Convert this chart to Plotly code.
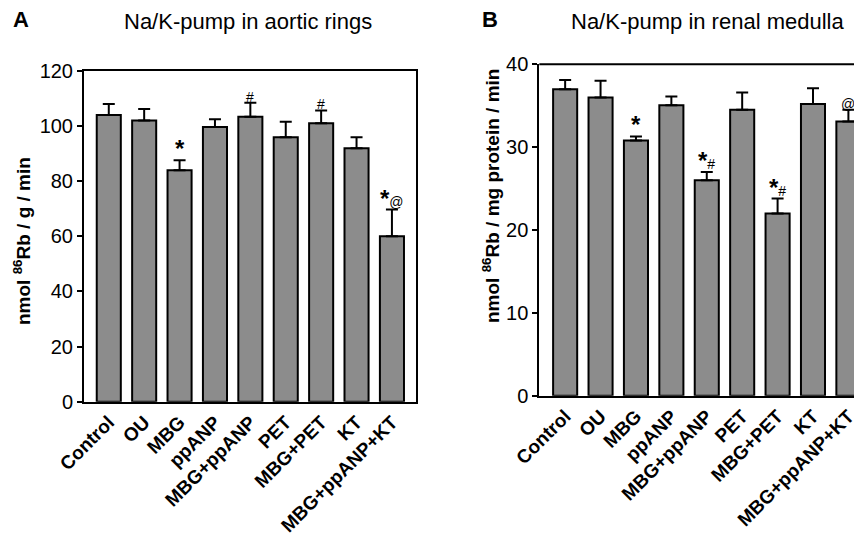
import plotly.graph_objects as go

categories = ["Control", "OU", "MBG", "ppANP", "MBG+ppANP", "PET", "MBG+PET", "KT", "MBG+ppANP+KT"]

aortic_mean = [104, 102, 84, 99.7, 103.4, 96, 101, 92, 60]
aortic_sem = [4.0, 4.2, 3.6, 2.8, 5.1, 5.6, 4.7, 4.0, 9.7]
aortic_sig = ["", "", "*", "", "#", "", "#", "", "*@"]

renal_mean = [37.0, 36.0, 30.8, 35.05, 26.0, 34.5, 22.0, 35.2, 33.1]
renal_sem = [1.1, 2.0, 0.5, 1.05, 1.0, 2.1, 1.8, 1.9, 1.4]
renal_sig = ["", "", "*", "", "*#", "", "*#", "", "@"]

W, H = 862, 543
OFF = 8  # page body margin compensation
FONT = "Liberation Sans, Arial, sans-serif"
BAR = "#8c8c8c"


def px(v):
    return (v - OFF) / W


def py(v):
    return 1 - (v - OFF) / H


fig = go.Figure()

for mean, sem, xa, ya in [(aortic_mean, aortic_sem, "x", "y"), (renal_mean, renal_sem, "x2", "y2")]:
    fig.add_trace(go.Bar(
        x=list(range(len(categories))), y=mean, xaxis=xa, yaxis=ya,
        width=0.68,
        marker=dict(color=BAR, line=dict(color="black", width=2)),
        error_y=dict(type="data", symmetric=False, array=sem, arrayminus=[0] * len(sem),
                     color="black", thickness=2, width=6),
        showlegend=False,
    ))


def sig_text(s):
    out = ""
    for ch in s:
        if ch == "*":
            out += "<span style='font-size:24px'><b>*</b></span>"
        else:
            out += "<span style='font-size:14px'>" + ch + "</span>"
    return out


annotations = []
for mean, sem, sig, xr, yr in [(aortic_mean, aortic_sem, aortic_sig, "x", "y"),
                               (renal_mean, renal_sem, renal_sig, "x2", "y2")]:
    for i, s in enumerate(sig):
        if s:
            annotations.append(dict(x=i, y=mean[i] + sem[i], xref=xr, yref=yr, text=sig_text(s),
                                    showarrow=False, xanchor="center", yanchor="bottom", yshift=-4,
                                    font=dict(family=FONT, size=14, color="black")))


def paper_text(x, y, text, size, angle=0):
    return dict(x=px(x), y=py(y), xref="paper", yref="paper", text=text, showarrow=False,
                xanchor="center", yanchor="middle", textangle=angle,
                font=dict(family=FONT, size=size, color="black"))


# panel letters and titles
annotations += [
    paper_text(21, 20, "<b>A</b>", 22),
    paper_text(248, 21, "Na/K-pump in aortic rings", 22),
    paper_text(490, 20, "<b>B</b>", 22),
    paper_text(707, 21, "Na/K-pump in renal medulla", 22),
    paper_text(22, 241, "<b>nmol <sup>86</sup>Rb / g / min</b>", 19, -90),
    paper_text(491, 196, "<b>nmol <sup>86</sup>Rb / mg protein / min</b>", 19, -90),
]

xcommon = dict(tickmode="array", tickvals=list(range(len(categories))),
               ticktext=["<b>" + c + "</b>" for c in categories],
               tickangle=-45, ticks="", showgrid=False, zeroline=False, automargin=False,
               showline=True, linecolor="black", linewidth=2,
               tickfont=dict(family=FONT, size=19, color="black"))
ycommon = dict(showgrid=False, zeroline=False, showline=True, linecolor="black", linewidth=2,
               ticks="outside", ticklen=5, tickwidth=2, tickcolor="black", automargin=False,
               tickfont=dict(family=FONT, size=20, color="black"))

fig.update_layout(
    width=W, height=H, margin=dict(l=0, r=0, t=0, b=0, autoexpand=False),
    paper_bgcolor="white", plot_bgcolor="white",
    bargap=0.3,
    xaxis=dict(domain=[px(84), px(416)], range=[-0.7, 8.68], mirror=True, anchor="y", **xcommon),
    yaxis=dict(domain=[py(401.7), py(71)], range=[0, 120], dtick=20, mirror=True,
               anchor="x", **ycommon),
    xaxis2=dict(domain=[px(539.3), 1.0], range=[-0.73, 8.61], anchor="y2", **xcommon),
    yaxis2=dict(domain=[py(395.7), py(64.3)], range=[0, 40], dtick=10, anchor="x2",
                **ycommon),
    annotations=annotations,
    shapes=[dict(type="line", xref="x2 domain", yref="y2 domain", x0=0, x1=1, y0=1, y1=1,
                 line=dict(color="black", width=2))],
)

fig.write_html("out.html")
